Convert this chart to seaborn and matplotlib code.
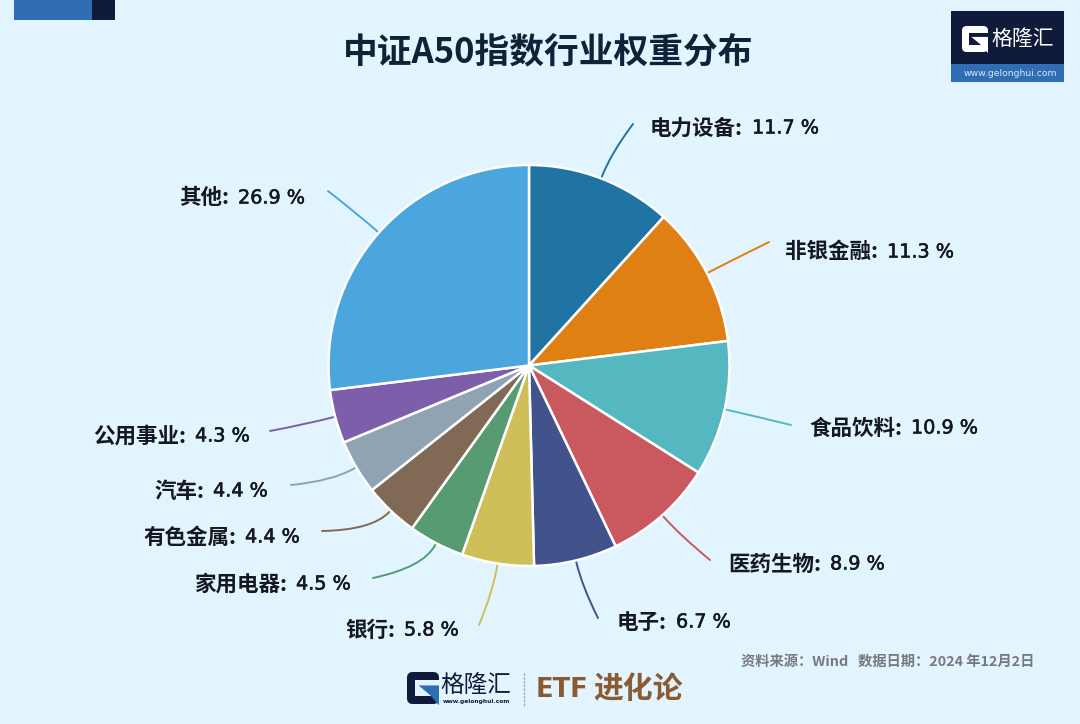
import numpy as np
import matplotlib
matplotlib.use("Agg")
import matplotlib.pyplot as plt
import matplotlib.patheffects as pe
import seaborn as sns
from matplotlib.patches import FancyBboxPatch, PathPatch, Rectangle, Polygon
from matplotlib.path import Path

# Data
sectors = ["电力设备", "非银金融", "食品饮料", "医药生物", "电子", "银行",
           "家用电器", "有色金属", "汽车", "公用事业", "其他"]
weights = [11.7, 11.3, 10.9, 8.9, 6.7, 5.8, 4.5, 4.4, 4.4, 4.3, 26.9]
colors = ["#1f74a4", "#df8015", "#55b7bf", "#c9595f", "#42528a", "#cfbf59",
          "#579b73", "#806a55", "#8fa3b3", "#7d5eab", "#4ba6dd"]

# label layout in image pixels: colon x, text y, leader end
colon_x = [743, 878, 902, 821, 667, 395, 287, 236, 204, 186, 229]
label_y = [128, 252, 428, 564, 622, 630, 584, 537, 491, 436, 198]
line_end = [(633, 124), (769, 242), (791, 425), (710, 560), (598, 618),
            (479, 625), (373, 578), (322, 531), (291, 485), (270, 431), (328, 191)]

BG = "#e2f4fe"
NAVY = "#101a3a"
BLUE = "#2f6db5"
CJK = ["Noto Sans CJK SC", "DejaVu Sans"]

sns.set_theme(style="white")
plt.rcParams["font.family"] = CJK

fig = plt.figure(figsize=(10.8, 7.24), dpi=100, facecolor=BG)

# overlay in image pixels
over = fig.add_axes([0, 0, 1, 1], zorder=2)
over.set_xlim(0, 1080)
over.set_ylim(724, 0)
over.axis("off")
over.patch.set_alpha(0)

# pie
cx, cy, R = 529, 365.5, 200.5
ax = fig.add_axes([(cx - R) / 1080, 1 - (cy + R) / 724, 2 * R / 1080, 2 * R / 724], zorder=1)
wedges, _ = ax.pie(weights, colors=sns.color_palette(colors), startangle=90, counterclock=False,
                   radius=1, wedgeprops={"edgecolor": "white", "linewidth": 1.8})
ax.set_xlim(-1, 1)
ax.set_ylim(-1, 1)

heavy = [pe.withStroke(linewidth=0.4, foreground="#15181e")]

# leaders and labels
for w, name, val, c, cxx, ly, end in zip(wedges, sectors, weights, colors, colon_x, label_y, line_end):
    a = np.deg2rad((w.theta1 + w.theta2) / 2)
    start = (cx + (R + 2) * np.cos(a), cy - (R + 2) * np.sin(a))
    ctrl = (cx + (R + 27) * np.cos(a), cy - (R + 27) * np.sin(a))
    over.add_patch(PathPatch(Path([start, ctrl, end], [Path.MOVETO, Path.CURVE3, Path.CURVE3]),
                             fc="none", ec=c, lw=1.4, capstyle="round"))
    over.text(cxx, ly, name + ":", ha="right", va="center", fontsize=15.5,
              fontweight="bold", color="#15181e")
    over.text(cxx + 9, ly, f"{val} %", ha="left", va="center", fontsize=13.8,
              family=["DejaVu Sans"], color="#15181e", path_effects=heavy)

# title
over.text(548, 52, "中证A50指数行业权重分布", ha="center", va="center", fontsize=25,
          fontweight="bold", color="#0f2238")

# top-left tab
over.add_patch(Rectangle((14, 0), 78, 20, fc=BLUE, ec="none"))
over.add_patch(Rectangle((92, 0), 23, 20, fc=NAVY, ec="none"))


def g_mark(x, y, s, body, accent, back):
    # rough G logo, s is the height in pixels
    over.add_patch(FancyBboxPatch((x, y), s, s, boxstyle=f"round,pad=0,rounding_size={.18 * s}",
                                  fc=body, ec="none"))
    over.add_patch(Rectangle((x + .26 * s, y + .26 * s), .76 * s, .48 * s, fc=back, ec="none"))
    over.add_patch(Polygon([(x + .36 * s, y + .42 * s), (x + s, y + .42 * s), (x + s, y + 1.04 * s),
                            (x + .72 * s, y + .72 * s)], fc=accent, ec="none"))


# top-right logo
over.add_patch(Rectangle((951, 11), 113, 53, fc=NAVY, ec="none"))
over.add_patch(Rectangle((951, 64), 113, 18, fc=BLUE, ec="none"))
g_mark(962, 26, 26, "white", "white", NAVY)
over.text(1023, 39, "格隆汇", ha="center", va="center", fontsize=15, color="white")
over.text(1010, 73, "www.gelonghui.com", ha="center", va="center", fontsize=6.7,
          family=["DejaVu Sans"], color="#dbe8f5")

# source line
over.text(1034, 662, "资料来源\uff1aWind   数据日期\uff1a2024 年12月2日", ha="right", va="center",
          fontsize=10.3, fontweight="bold", color="#77797c")

# bottom logo
g_mark(407, 672, 32, NAVY, BLUE, BG)
over.text(476, 685, "格隆汇", ha="center", va="center", fontsize=17, color=NAVY)
over.text(476, 702, "www.gelonghui.com", ha="center", va="center", fontsize=4.2,
          fontweight="bold", family=["DejaVu Sans"], color=NAVY)
over.plot([524, 524], [673, 707], color="#9aa5b0", lw=0.9, ls=(0, (2, 1)))
over.text(536, 690, "ETF", ha="left", va="center", fontsize=18.5,
          fontweight="bold", color="#8a5a33", family=["DejaVu Sans"])
over.text(683, 689, "进化论", ha="right", va="center", fontsize=21.5,
          fontweight="bold", color="#8a5a33")

fig.savefig("out.png", dpi=100, facecolor=BG)
plt.close(fig)
